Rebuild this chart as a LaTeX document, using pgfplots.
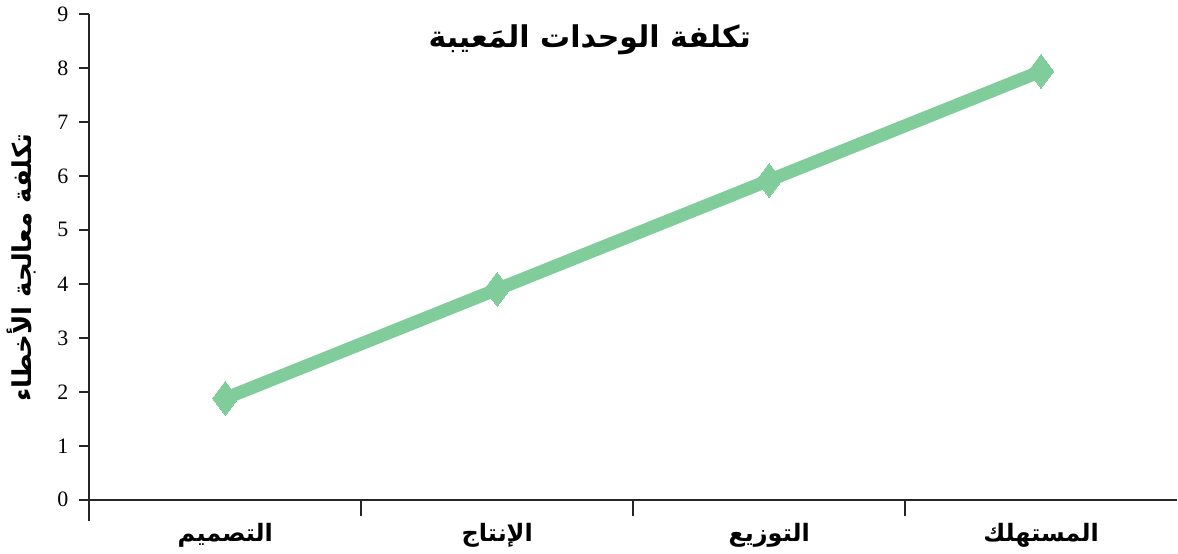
\documentclass[border=0pt]{standalone}
\usepackage{pgfplots}
\pgfplotsset{compat=1.18}
\usepackage{fontspec}
\setmainfont{Liberation Serif}
\newfontfamily\arabicfont[Script=Arabic]{DejaVu Sans}
\TeXXeTstate=1
\definecolor{lgreen}{HTML}{80CC9A}
\definecolor{axgray}{HTML}{262626}
\begin{document}
\begin{tikzpicture}
\begin{axis}[
  scale only axis,
  width=544.5pt, height=254pt,
  xmin=-0.5, xmax=3.5,
  ymin=-0.4, ymax=9,
  axis x line=middle,
  axis y line=left,
  axis line style={-, axgray, line width=1pt},
  xtick={0,1,2,3},
  xticklabels={{\arabicfont\bfseries\beginR التصميم\endR},{\arabicfont\bfseries\beginR الإنتاج\endR},{\arabicfont\bfseries\beginR التوزيع\endR},{\arabicfont\bfseries\beginR المستهلك\endR}},
  major x tick style={draw=none},
  minor xtick={0.5,1.5,2.5},
  minor x tick style={axgray, line width=1pt},
  minor tick length=8pt,
  ytick={0,1,...,9},
  major y tick style={axgray, line width=1pt},
  major tick length=5pt,
  tick align=outside,
  x tick label style={font=\fontsize{12}{14}\selectfont, yshift=-3pt},
  y tick label style={font=\fontsize{11}{13}\selectfont, xshift=-2pt},
  /pgf/number format/assume math mode=true,
  ylabel={\arabicfont\bfseries\beginR تكلفة معالجة الأخطاء\endR},
  ylabel style={font=\fontsize{13}{15}\selectfont, yshift=4pt},
  title={\arabicfont\bfseries\beginR تكلفة الوحدات المَعيبة\endR},
  title style={font=\fontsize{15}{17}\selectfont, at={(rel axis cs:0.46,0.925)}, anchor=center},
  clip=false,
]
\addplot[lgreen, line width=6.5pt, mark=diamond*, mark size=8.5pt, mark options={fill=lgreen, draw=lgreen, line width=0pt}] coordinates {
  (0,1.88) (1,3.9) (2,5.92) (3,7.94)
};
\end{axis}
\end{tikzpicture}
\end{document}
